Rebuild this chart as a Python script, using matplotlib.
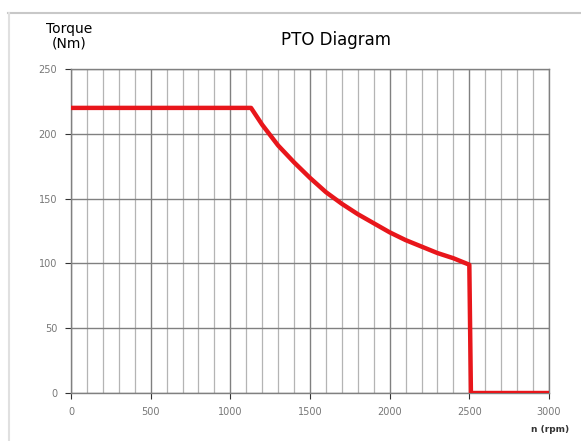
import matplotlib.pyplot as plt
from matplotlib.lines import Line2D

# torque curve
speed_rpm = [0, 1130, 1200, 1300, 1400, 1500, 1600, 1700, 1800, 1900,
             2000, 2100, 2200, 2300, 2400, 2500, 2510, 3000]
torque_nm = [220, 220, 207, 191, 178, 166, 155, 146, 138, 131,
             124, 118, 113, 108, 104, 99, 0, 0]

x_ticks = [0, 500, 1000, 1500, 2000, 2500, 3000]
y_ticks = [0, 50, 100, 150, 200, 250]

fig = plt.figure(figsize=(5.81, 4.41), dpi=100)
ax = fig.add_axes([0.1222, 0.1088, 0.8227, 0.7347])

# light frame round the picture (top and left edges)
fig.add_artist(Line2D([8 / 581, 1.0], [1 - 12.5 / 441] * 2, color='#c8c8c8', lw=1.5))
fig.add_artist(Line2D([8.5 / 581] * 2, [0, 1 - 12.5 / 441], color='#e0e0e0', lw=1.5))

# grid: fine every 100 rpm, darker every 500 rpm
for x in range(0, 3001, 100):
    if x % 500 == 0:
        ax.axvline(x, color='#808080', lw=1.0, zorder=1)
    else:
        ax.axvline(x, color='#b4b4b4', lw=0.9, zorder=1)
for y in y_ticks:
    ax.axhline(y, color='#808080', lw=1.0, zorder=1)

ax.plot(speed_rpm, torque_nm, color='#e8161b', lw=3.2, zorder=3,
        solid_joinstyle='round')

ax.set_xlim(0, 3000)
ax.set_ylim(0, 250)
ax.set_xticks(x_ticks)
ax.set_yticks(y_ticks)
ax.tick_params(labelsize=7, colors='#333333', labelcolor='#777777',
               length=4, width=0.8, pad=6)
for s in ax.spines.values():
    s.set_color('#808080')
    s.set_linewidth(1.0)

fig.text(336 / 581, 1 - 45 / 441, 'PTO Diagram', ha='center', va='baseline',
         fontsize=12)
fig.text(69 / 581, 1 - 36 / 441, 'Torque\n(Nm)', ha='center', va='center',
         fontsize=10, linespacing=1.05)
fig.text(550 / 581, 1 - 430 / 441, 'n (rpm)', ha='center', va='center',
         fontsize=6.5, fontweight='bold', color='#333333')

fig.savefig('out.png', dpi=100)
